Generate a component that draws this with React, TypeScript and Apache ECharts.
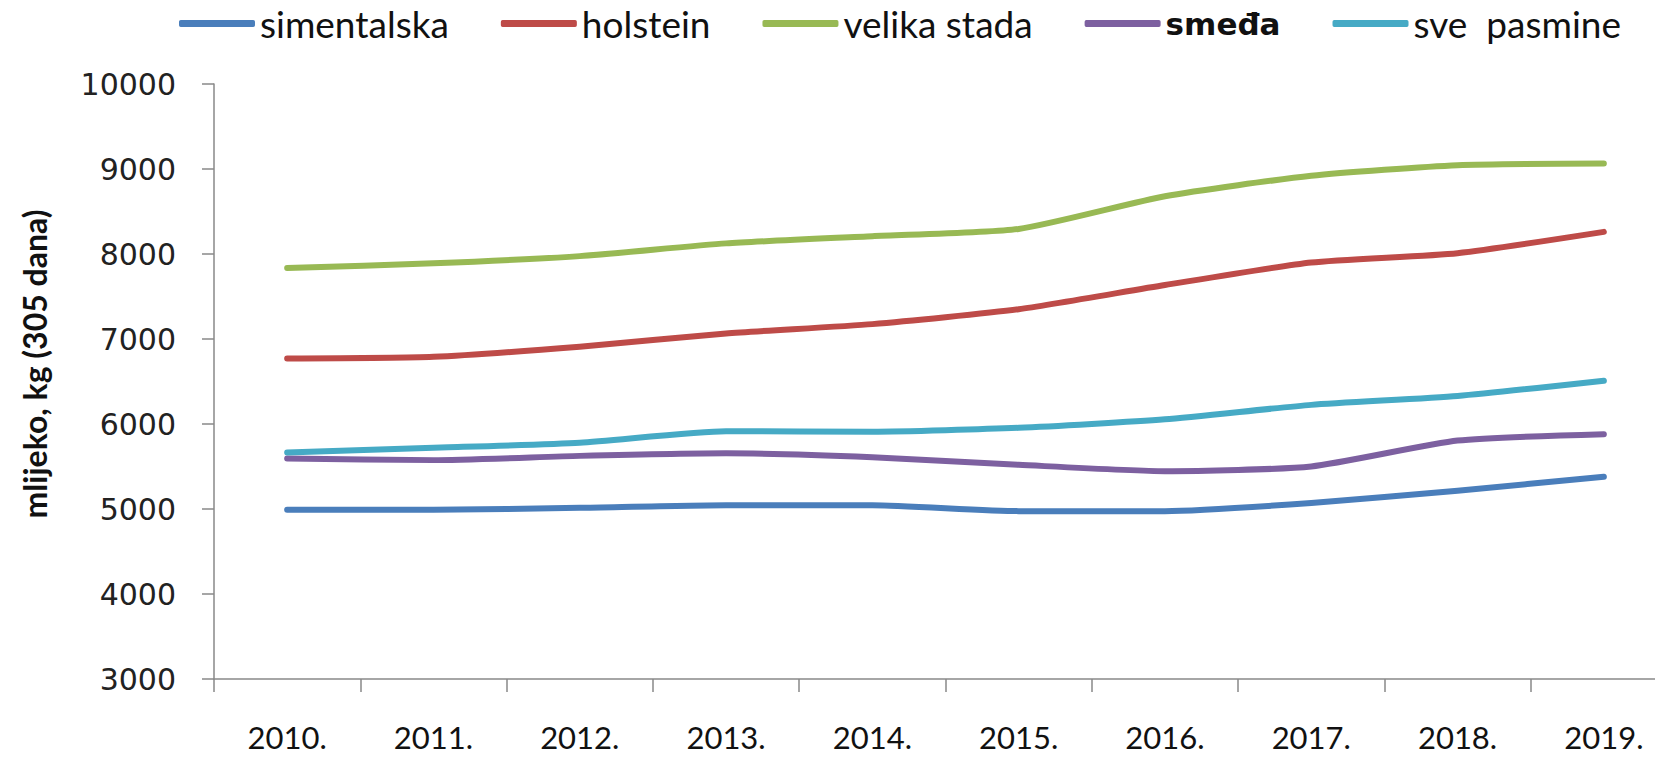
import React, { useEffect, useRef } from "react";
import * as echarts from "echarts";

const years = ["2010.", "2011.", "2012.", "2013.", "2014.", "2015.", "2016.", "2017.", "2018.", "2019."];
const simentalska = [4990, 4990, 5015, 5045, 5045, 4975, 4975, 5070, 5215, 5380];
const holstein = [6770, 6790, 6910, 7065, 7175, 7350, 7635, 7900, 8010, 8260];
const velikaStada = [7835, 7890, 7975, 8125, 8210, 8295, 8680, 8920, 9045, 9065];
const smedja = [5595, 5575, 5625, 5655, 5610, 5520, 5445, 5500, 5805, 5880];
const svePasmine = [5665, 5720, 5780, 5915, 5910, 5955, 6055, 6225, 6330, 6510];

const seriesDefs = [
  { name: "simentalska", data: simentalska, color: "#4A7EBB" },
  { name: "holstein", data: holstein, color: "#BE4B48" },
  { name: "velika stada", data: velikaStada, color: "#98B954" },
  { name: "smeđa", data: smedja, color: "#7D60A0" },
  { name: "sve  pasmine", data: svePasmine, color: "#46AAC5" },
];

const CAL = 'Lato, "Liberation Sans", sans-serif';

export default function App() {
  const ref = useRef<HTMLDivElement>(null);
  useEffect(() => {
    document.body.style.margin = "0";
    if (!ref.current) return;
    const chart = echarts.init(ref.current, undefined, { renderer: "svg" });
    chart.setOption({
      animation: false,
      backgroundColor: "#ffffff",
      legend: {
        left: 179,
        top: 5,
        padding: 0,
        icon: "roundRect",
        itemWidth: 76,
        itemHeight: 7,
        itemGap: 52,
        selectedMode: false,
        textStyle: { fontFamily: CAL, fontSize: 37, lineHeight: 36, color: "#111" },
        data: seriesDefs.map((s) =>
          s.name === "smeđa"
            ? {
                name: s.name,
                textStyle: { fontFamily: '"DejaVu Sans", sans-serif', fontWeight: "bold", fontSize: 31, lineHeight: 36, color: "#111" },
              }
            : { name: s.name }
        ),
      },
      grid: { left: 214, right: -22, top: 84, bottom: 78, outerBoundsMode: "none", containLabel: false },
      xAxis: {
        type: "category",
        data: years,
        boundaryGap: true,
        axisLine: { show: true, lineStyle: { color: "#898989", width: 1.5 } },
        axisTick: { show: true, length: 13, lineStyle: { color: "#898989", width: 1.5 } },
        axisLabel: { margin: 42, fontFamily: CAL, fontSize: 31, color: "#111", interval: 0 },
        splitLine: { show: false },
      },
      yAxis: {
        type: "value",
        min: 3000,
        max: 10000,
        interval: 1000,
        axisLine: { show: true, lineStyle: { color: "#898989", width: 1.5 } },
        axisTick: { show: true, length: 12, lineStyle: { color: "#898989", width: 1.5 } },
        axisLabel: {
          margin: 38,
          fontFamily: '"DejaVu Sans", sans-serif',
          fontSize: 30,
          color: "#222",
          formatter: (v: number) => String(v),
        },
        splitLine: { show: false },
      },
      graphic: [
        {
          type: "text",
          x: 34,
          y: 364,
          rotation: Math.PI / 2,
          style: {
            text: "mlijeko, kg (305 dana)",
            fontFamily: CAL,
            fontWeight: "bold",
            fontSize: 32,
            fill: "#111",
            textAlign: "center",
            textVerticalAlign: "middle",
          },
        },
      ],
      series: seriesDefs.map((s) => ({
        name: s.name,
        type: "line",
        data: s.data,
        smooth: 0.2,
        symbol: "none",
        color: s.color,
        lineStyle: { color: s.color, width: 6, cap: "round", join: "round" },
      })),
    });
    return () => chart.dispose();
  }, []);
  return <div ref={ref} style={{ width: 1655, height: 757 }} />;
}
